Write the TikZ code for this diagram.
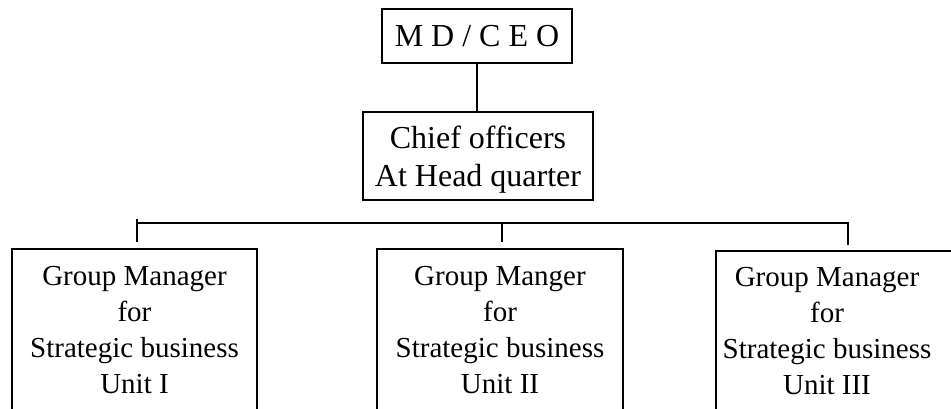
\documentclass[tikz,border=0pt]{standalone}
\usepackage{fontspec}
\setmainfont{Liberation Serif}
\begin{document}
\begin{tikzpicture}[x=1pt,y=-1pt,
  box/.style={draw, line width=2pt, inner sep=0pt},
  toptext/.style={font=\fontsize{32}{38.5}\selectfont, align=center, text depth=0pt},
  bottext/.style={font=\fontsize{29}{36}\selectfont, align=center, text depth=0pt},
  link/.style={line width=2pt}]
\useasboundingbox (0,0) rectangle (951,409);
\clip (0,0) rectangle (951,409);
% top boxes
\node[box, toptext, minimum width=190pt, minimum height=54pt] (ceo) at (477,36) {M D / C E O};
\node[box, toptext, minimum width=230pt, minimum height=88pt] (chief) at (478,156) {Chief officers\\At Head quarter};
% bottom boxes
\node[box, bottext, minimum width=245pt, minimum height=162pt] (u1) at (134.5,329.5) {Group Manager\\for\\Strategic business\\Unit I};
\node[box, bottext, minimum width=246pt, minimum height=162pt] (u2) at (500,329.5) {Group Manger\\for\\Strategic business\\Unit II};
\node[box, minimum width=250pt, minimum height=162pt] (u3) at (841,331.5) {};
\node[bottext] (u3text) at (827,331) {Group Manager\\for\\Strategic business\\Unit III};
% connectors
\draw[link] (ceo.south) -- (ceo.south |- chief.north);
\coordinate (bl) at (137,223);
\coordinate (bm) at (502,223);
\coordinate (br) at (848,223);
\coordinate (t1) at (137,242);
\coordinate (t2) at (502,242);
\coordinate (t3) at (848,245);
\draw[link] (bl) -- (br) -- (t3);
\draw[link] ([yshift=4pt]bl) -- (t1);
\draw[link] (bm) -- (t2);
\end{tikzpicture}
\end{document}
